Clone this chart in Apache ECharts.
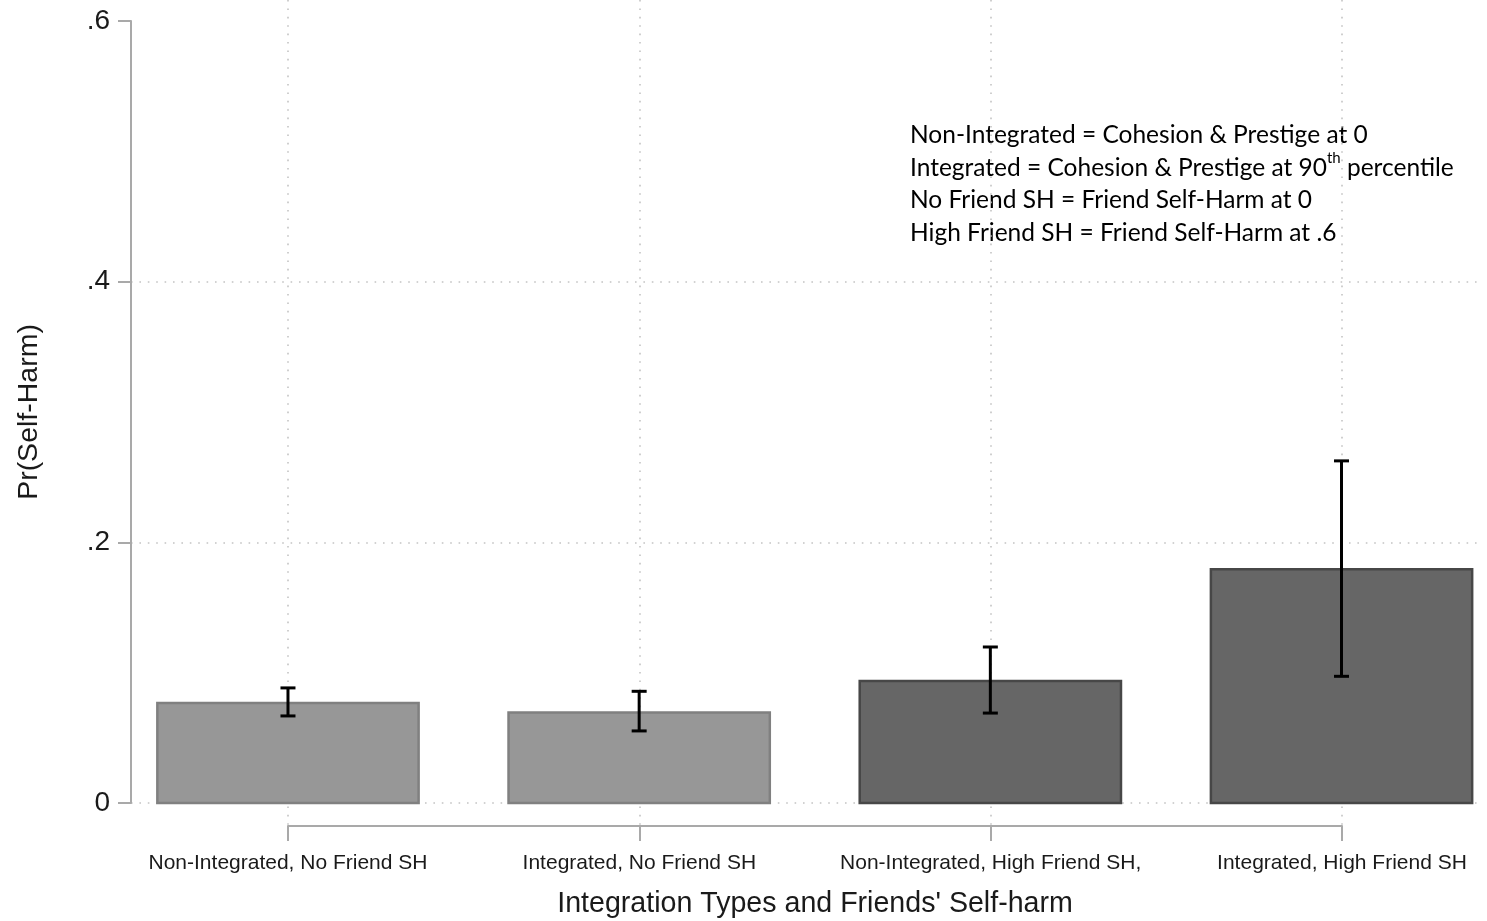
<!DOCTYPE html>
<html>
<head>
<meta charset="utf-8">
<script src="https://cdn.jsdelivr.net/npm/echarts@6/dist/echarts.min.js"></script>
<style>
  html, body { margin: 0; padding: 0; background: #fff; }
  #chart { width: 1487px; height: 921px; }
</style>
</head>
<body>
<div id="chart"></div>
<script>
// Predicted probability of self-harm by integration type and friends' self-harm
const categories = [
  'Non-Integrated, No Friend SH',
  'Integrated, No Friend SH',
  'Non-Integrated, High Friend SH,',
  'Integrated, High Friend SH'
];
const probability = [0.0767, 0.0694, 0.0936, 0.1794];
const ciLower    = [0.0668, 0.0553, 0.0690, 0.0972];
const ciUpper    = [0.0883, 0.0857, 0.1197, 0.2625];
const friendSH   = ['none', 'none', 'high', 'high'];
const yTickLabels = { '0': '0', '0.2': '.2', '0.4': '.4', '0.6': '.6' };

const barFill   = { none: '#979797', high: '#666666' };
const barBorder = { none: '#808080', high: '#474747' };
const dotted = { color: '#c4c4c4', width: 1.6, type: [1.6, 6.8] };
const axisGray = '#a9a9a9';
const textFont = 'Liberation Sans, Arial, sans-serif';
const noteFont = '24.5px Lato';

const seriesData = categories.map((c, i) => [i + 1, probability[i], ciLower[i], ciUpper[i], i]);

const chart = echarts.init(document.getElementById('chart'), null, { renderer: 'canvas' });

chart.setOption({
  backgroundColor: '#ffffff',
  animation: false,
  grid: [
    // plotting region for bars and the y scale
    { left: 131, right: 5, top: 21, bottom: 118, containLabel: false, outerBoundsMode: 'none' },
    // category axis spanning the four bar positions
    { left: 288, right: 145, top: 0, bottom: 95, containLabel: false, outerBoundsMode: 'none' }
  ],
  xAxis: [
    {
      gridIndex: 0, type: 'value', min: 0.553, max: 4.4,
      show: false
    },
    {
      gridIndex: 1, type: 'value', min: 1, max: 4, interval: 1,
      position: 'bottom',
      axisLine: { show: true, lineStyle: { color: axisGray, width: 2 } },
      axisTick: { show: true, inside: false, length: 15, lineStyle: { color: axisGray, width: 2 } },
      axisLabel: {
        margin: 27, fontSize: 21, fontFamily: textFont, color: '#1a1a1a',
        formatter: v => categories[Math.round(v) - 1] || ''
      },
      splitLine: { show: true, lineStyle: dotted },
      name: "Integration Types and Friends' Self-harm",
      nameLocation: 'middle', nameGap: 64,
      nameTextStyle: { fontSize: 28.6, fontFamily: textFont, color: '#1a1a1a' }
    }
  ],
  yAxis: [
    {
      gridIndex: 0, type: 'value', min: 0, max: 0.6, interval: 0.2,
      axisLine: { show: true, lineStyle: { color: axisGray, width: 2 } },
      axisTick: { show: true, inside: false, length: 13, lineStyle: { color: axisGray, width: 2 } },
      axisLabel: {
        margin: 21, fontSize: 28, fontFamily: textFont, color: '#1a1a1a',
        formatter: v => yTickLabels[String(Math.round(v * 10) / 10)] ?? ''
      },
      splitLine: { show: true, showMaxLine: false, lineStyle: dotted },
      name: 'Pr(Self-Harm)',
      nameLocation: 'middle', nameGap: 87, nameRotate: 90,
      nameTextStyle: { fontSize: 28.5, fontFamily: textFont, color: '#1a1a1a' }
    },
    {
      gridIndex: 1, type: 'value', min: 0, max: 1, show: false
    }
  ],
  series: [
    {
      type: 'custom',
      xAxisIndex: 0, yAxisIndex: 0,
      clip: false,
      data: seriesData,
      renderItem: function (params, api) {
        const x = api.value(0);
        const v = api.value(1);
        const lo = api.value(2);
        const hi = api.value(3);
        const grp = friendSH[api.value(4)];
        const halfW = 0.372;
        const tl = api.coord([x - halfW, v]);
        const br = api.coord([x + halfW, 0]);
        const pLo = api.coord([x, lo]);
        const pHi = api.coord([x, hi]);
        const cap = 7.5;
        return {
          type: 'group',
          children: [
            {
              type: 'rect',
              shape: { x: tl[0], y: tl[1], width: br[0] - tl[0], height: br[1] - tl[1] },
              style: { fill: barFill[grp], stroke: barBorder[grp], lineWidth: 2.5 }
            },
            {
              type: 'line', z2: 5,
              shape: { x1: pLo[0], y1: pLo[1], x2: pHi[0], y2: pHi[1] },
              style: { stroke: '#000', lineWidth: 3 }
            },
            {
              type: 'line', z2: 5,
              shape: { x1: pLo[0] - cap, y1: pLo[1], x2: pLo[0] + cap, y2: pLo[1] },
              style: { stroke: '#000', lineWidth: 3 }
            },
            {
              type: 'line', z2: 5,
              shape: { x1: pHi[0] - cap, y1: pHi[1], x2: pHi[0] + cap, y2: pHi[1] },
              style: { stroke: '#000', lineWidth: 3 }
            }
          ]
        };
      }
    }
  ],
  graphic: [
    {
      type: 'text', x: 910, y: 135,
      style: { text: 'Non-Integrated = Cohesion & Prestige at 0', font: noteFont, fill: '#000', verticalAlign: 'middle' }
    },
    {
      type: 'text', x: 910, y: 164,
      style: {
        text: '{a|Integrated = Cohesion & Prestige at 90}{s|th}{a| percentile}',
        verticalAlign: 'middle',
        rich: {
          a: { font: noteFont, fill: '#000', verticalAlign: 'bottom', lineHeight: 34 },
          s: { font: '15px Lato', fill: '#000', verticalAlign: 'top', lineHeight: 34, padding: [4, 0, 0, 0] }
        }
      }
    },
    {
      type: 'text', x: 910, y: 200,
      style: { text: 'No Friend SH = Friend Self-Harm at 0', font: noteFont, fill: '#000', verticalAlign: 'middle' }
    },
    {
      type: 'text', x: 910, y: 233,
      style: { text: 'High Friend SH = Friend Self-Harm at .6', font: noteFont, fill: '#000', verticalAlign: 'middle' }
    }
  ]
});
</script>
</body>
</html>
